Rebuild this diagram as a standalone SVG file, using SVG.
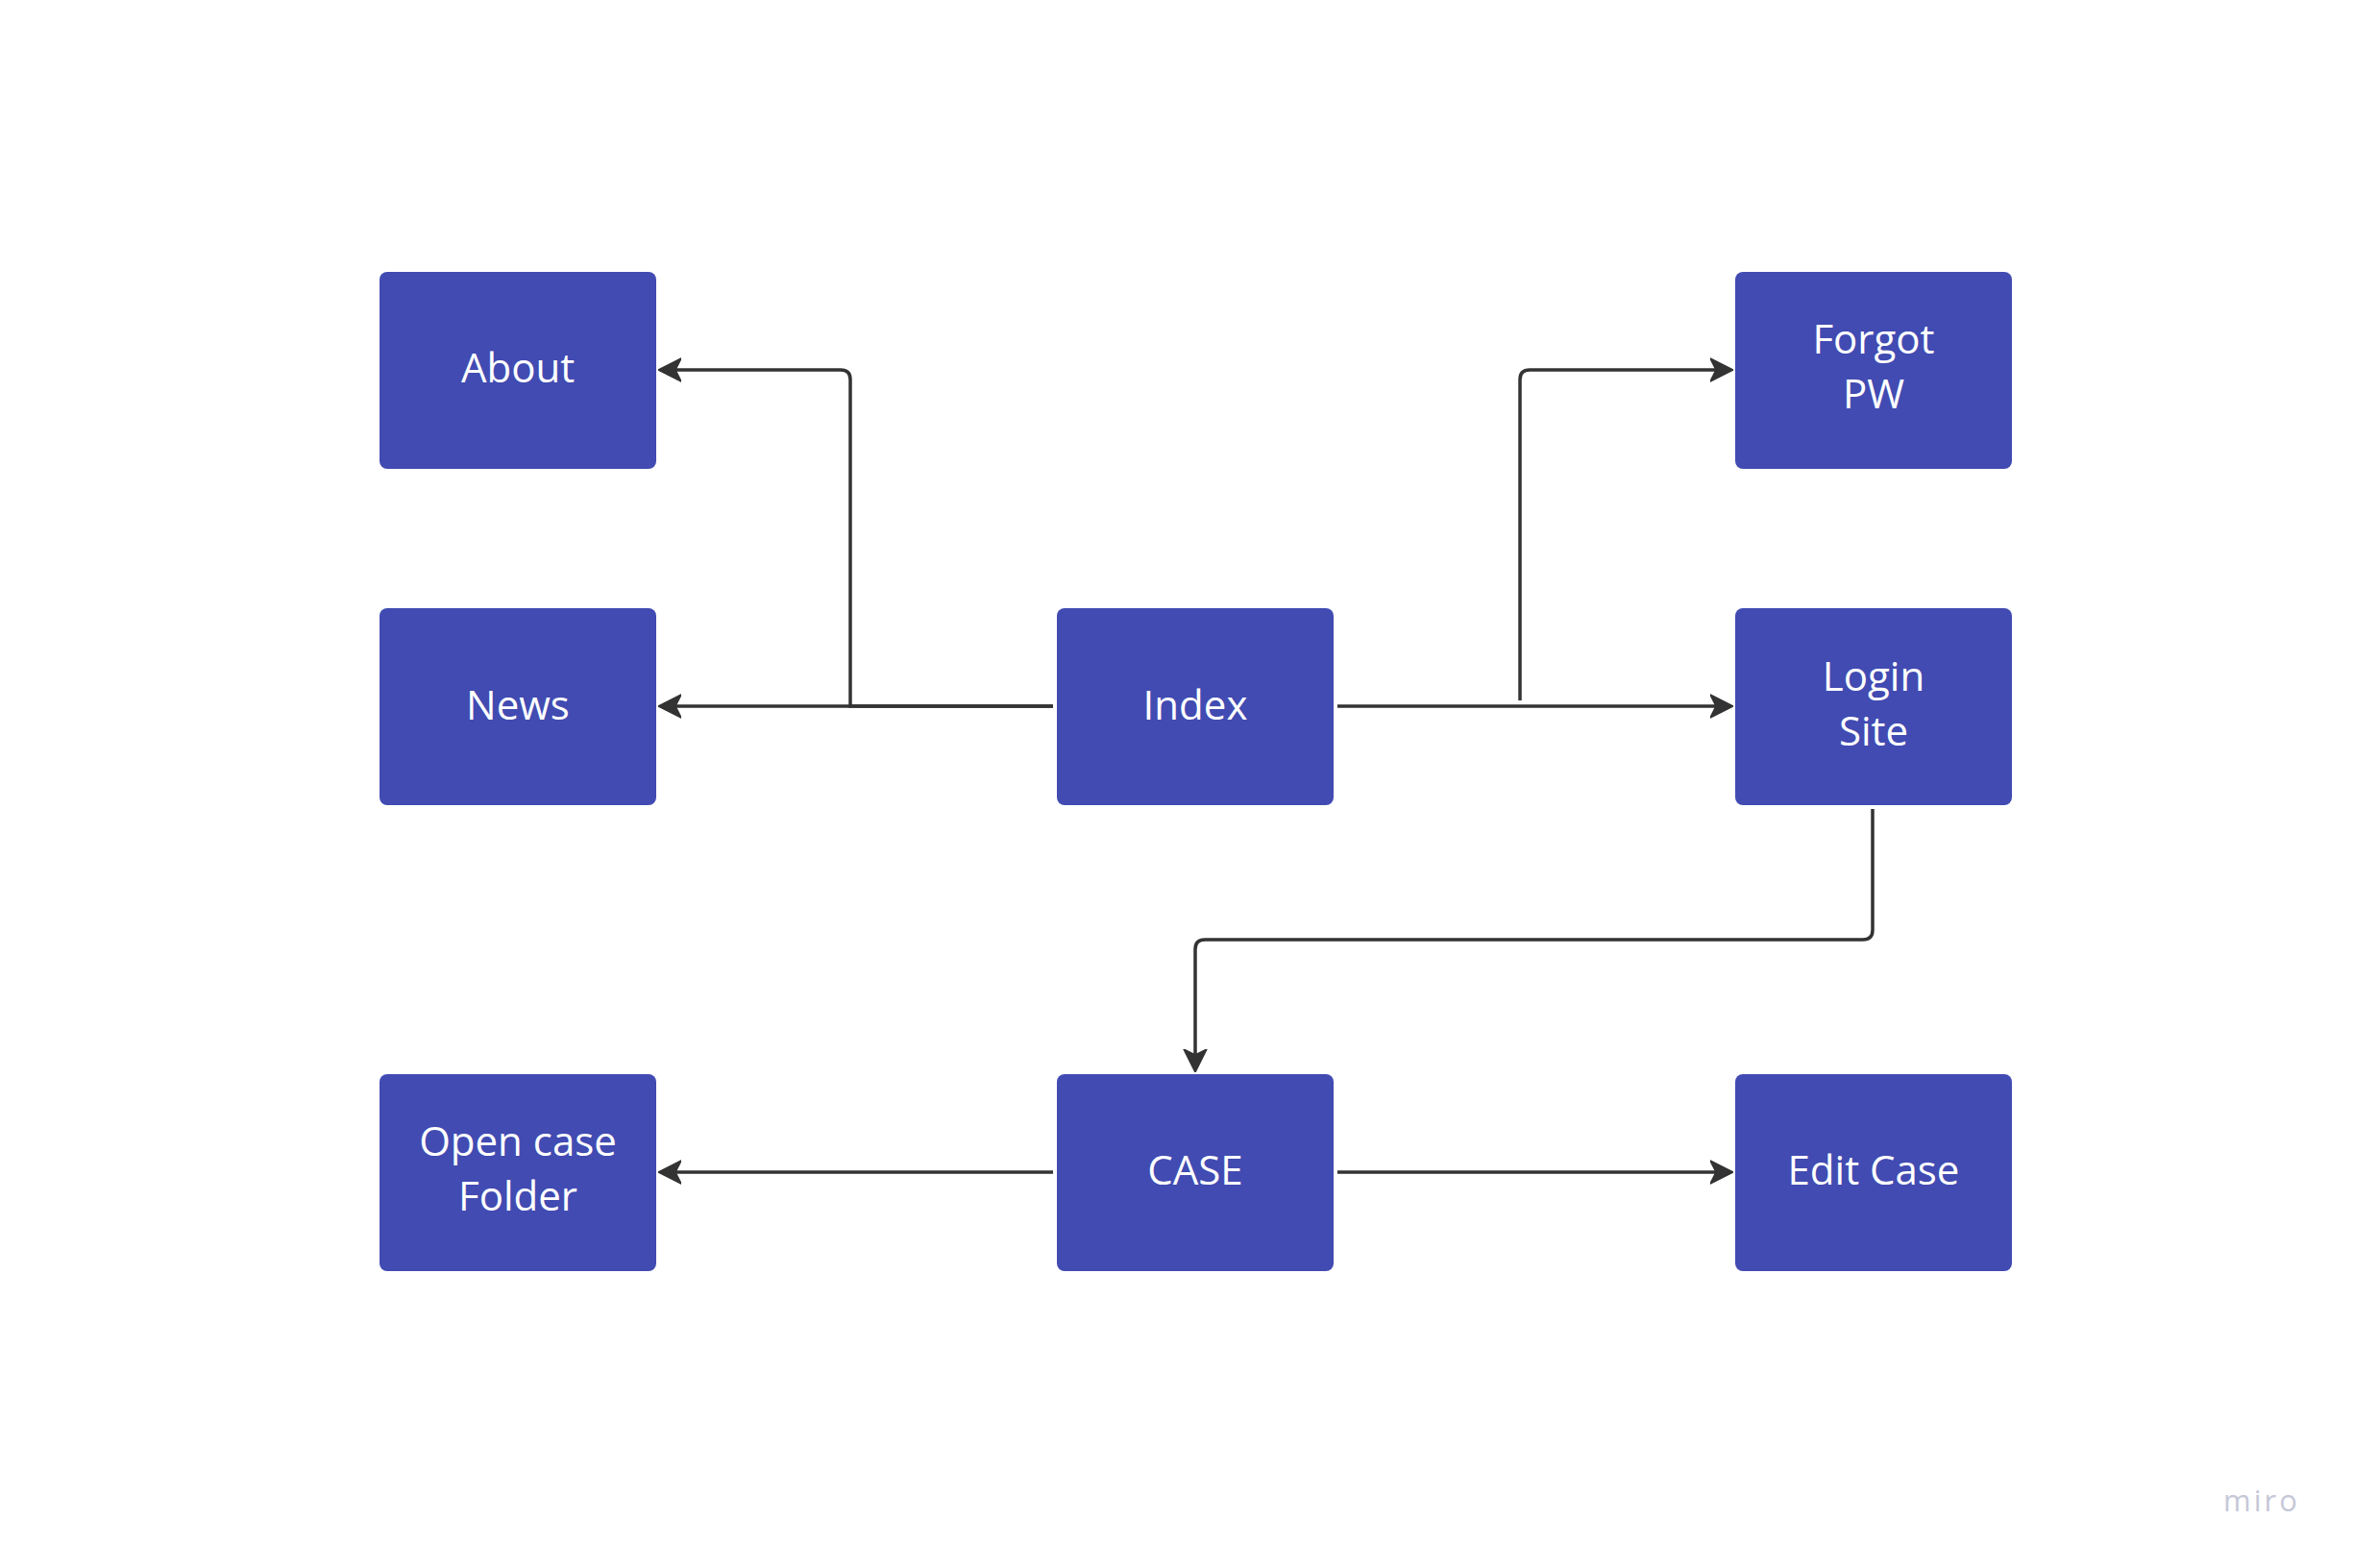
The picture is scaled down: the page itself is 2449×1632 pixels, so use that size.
<svg xmlns="http://www.w3.org/2000/svg" width="2449" height="1632" viewBox="0 0 2449 1632">
<style>
.box{fill:#414bb2;}
.lbl{font-family:"Open Sans","Liberation Sans",sans-serif;font-size:42px;fill:#ffffff;text-anchor:middle;}
.con{fill:none;stroke:#333333;stroke-width:3.5;}
.wm{font-family:"Open Sans","Liberation Sans",sans-serif;font-size:31px;fill:#c6c8d8;letter-spacing:3px;}
</style>
<defs>
<marker id="arr" viewBox="0 0 24 26" refX="20" refY="13" markerWidth="24" markerHeight="26" markerUnits="userSpaceOnUse" orient="auto">
<path d="M0,1 L24,13 L0,25 L6,13 Z" fill="#333333" stroke="#333333" stroke-width="1.5" stroke-linejoin="round"/>
</marker>
</defs>
<rect width="2449" height="1632" fill="#ffffff"/>
<g id="connectors">
<path class="con" d="M1096,735 H885 V395 Q885,385 875,385 H689" marker-end="url(#arr)"/>
<path class="con" d="M1096,735 H689" marker-end="url(#arr)"/>
<path class="con" d="M1392,735 H1800" marker-end="url(#arr)"/>
<path class="con" d="M1582,729 V395 Q1582,385 1592,385 H1800" marker-end="url(#arr)"/>
<path class="con" d="M1949,842 V968 Q1949,978 1939,978 H1254 Q1244,978 1244,988 V1112" marker-end="url(#arr)"/>
<path class="con" d="M1096,1220 H689" marker-end="url(#arr)"/>
<path class="con" d="M1392,1220 H1800" marker-end="url(#arr)"/>
</g>
<g id="about"><rect class="box" x="395" y="283" width="288" height="205" rx="8"/><text class="lbl" x="539" y="398">About</text></g>
<g id="news"><rect class="box" x="395" y="633" width="288" height="205" rx="8"/><text class="lbl" x="539" y="749">News</text></g>
<g id="index"><rect class="box" x="1100" y="633" width="288" height="205" rx="8"/><text class="lbl" x="1244" y="749">Index</text></g>
<g id="forgot"><rect class="box" x="1806" y="283" width="288" height="205" rx="8"/><text class="lbl" x="1950" y="368">Forgot</text><text class="lbl" x="1950" y="425">PW</text></g>
<g id="login"><rect class="box" x="1806" y="633" width="288" height="205" rx="8"/><text class="lbl" x="1950" y="719">Login</text><text class="lbl" x="1950" y="776">Site</text></g>
<g id="opencase"><rect class="box" x="395" y="1118" width="288" height="205" rx="8"/><text class="lbl" x="539" y="1203">Open case</text><text class="lbl" x="539" y="1260">Folder</text></g>
<g id="case"><rect class="box" x="1100" y="1118" width="288" height="205" rx="8"/><text class="lbl" x="1244" y="1233">CASE</text></g>
<g id="editcase"><rect class="box" x="1806" y="1118" width="288" height="205" rx="8"/><text class="lbl" x="1950" y="1233">Edit Case</text></g>
<text class="wm" x="2314" y="1573">miro</text>
</svg>
